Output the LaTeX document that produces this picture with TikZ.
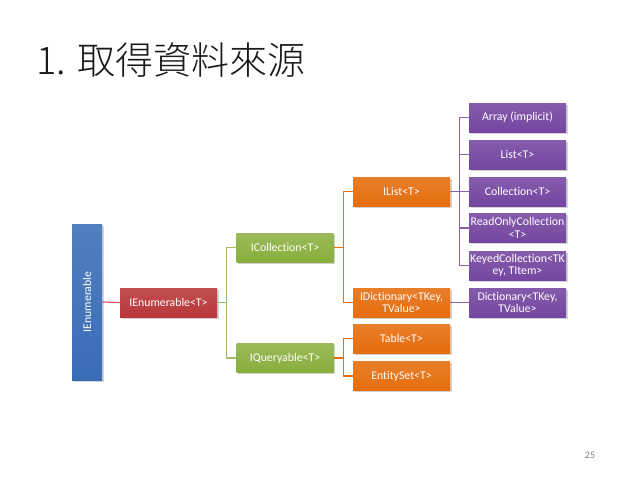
\documentclass[tikz,border=0pt]{standalone}
\usepackage{fontspec}
\setmainfont{Carlito}[Ligatures=NoCommon]
\newfontfamily\cjkfont{Noto Sans CJK TC Light}
\usetikzlibrary{shadows}

\definecolor{bluebox}{HTML}{3A6CB6}
\definecolor{redbox}{HTML}{B9373A}
\definecolor{greenbox}{HTML}{88AE3C}
\definecolor{orangebox}{HTML}{E56D0E}
\definecolor{purplebox}{HTML}{7446A0}
\definecolor{titlegray}{HTML}{1A1A1A}

\begin{document}
\begin{tikzpicture}[x=1pt,y=-1pt,
  box/.style={minimum width=97pt,minimum height=29pt,inner sep=1pt,
    align=center,text=white,font=\fontsize{11.8}{12.5}\selectfont,
    drop shadow={shadow xshift=1.5pt,shadow yshift=-1.5pt,opacity=.35}},
  bluenode/.style={box,top color=bluebox!88!white,bottom color=bluebox},
  rednode/.style={box,top color=redbox!88!white,bottom color=redbox},
  greennode/.style={box,top color=greenbox!85!white,bottom color=greenbox},
  orangenode/.style={box,top color=orangebox!88!white,bottom color=orangebox},
  purplenode/.style={box,top color=purplebox!88!white,bottom color=purplebox},
  link/.style={line width=1.2pt}]
\useasboundingbox[fill=white] (0,0) rectangle (638,479);
% title
\node[anchor=west,text=titlegray,inner sep=0pt] (title) at (36,60)
  {\fontsize{38}{40}\selectfont\cjkfont 1. 取得資料來源};
%% tree
\node[bluenode,minimum width=30pt,minimum height=156pt] (ienum) at (87,302) {};
\node[rotate=90,text=white,font=\fontsize{11.8}{12.5}\selectfont] (ienumtext) at (ienum) {IEnumerable};
\node[rednode] (ienumt) at (168.5,302.5) {IEnumerable<T>};
\node[greennode] (icoll) at (285,247.5) {ICollection<T>};
\node[greennode] (iquery) at (285,358) {IQueryable<T>};
\node[orangenode] (ilist) at (401.5,191.5) {IList<T>};
\node[orangenode] (idict) at (401.5,302.5) {IDictionary<TKey,\\TValue>};
\node[orangenode] (table) at (401.5,338.5) {Table<T>};
\node[orangenode] (entity) at (401.5,376) {EntitySet<T>};
\node[purplenode] (array) at (517.5,117.5) {Array (implicit)};
\node[purplenode] (list) at (517.5,154.5) {List<T>};
\node[purplenode] (coll) at (517.5,191.5) {Collection<T>};
\node[purplenode] (rocoll) at (517.5,228) {ReadOnlyCollection\\<T>};
\node[purplenode] (keyed) at (517.5,265.5) {KeyedCollection<TK\\ey, TItem>};
\node[purplenode] (dict) at (517.5,302.5) {Dictionary<TKey,\\TValue>};
% connectors
\draw[link,redbox!80!white] (ienum.east) -- (ienumt.west);
\draw[link,greenbox!80!white] (ienumt.east) -- ++(9,0) |- (icoll.west);
\draw[link,greenbox!80!white] (ienumt.east) -- ++(9,0) |- (iquery.west);
\draw[link,orangebox] (icoll.east) -- ++(10,0) |- (ilist.west);
\draw[link,orangebox] (icoll.east) -- ++(10,0) |- (idict.west);
\draw[link,orangebox] (iquery.east) -- ++(10,0) |- (table.west);
\draw[link,orangebox] (iquery.east) -- ++(10,0) |- (entity.west);
\foreach \t in {array,list,coll,rocoll,keyed}
  \draw[link,purplebox!85!white] (ilist.east) -- ++(9,0) |- (\t.west);
\draw[link,purplebox!85!white] (idict.east) -- (dict.west);
% page number
\node[text=gray,font=\fontsize{10}{12}\selectfont] (page) at (590,455) {25};
\end{tikzpicture}
\end{document}
